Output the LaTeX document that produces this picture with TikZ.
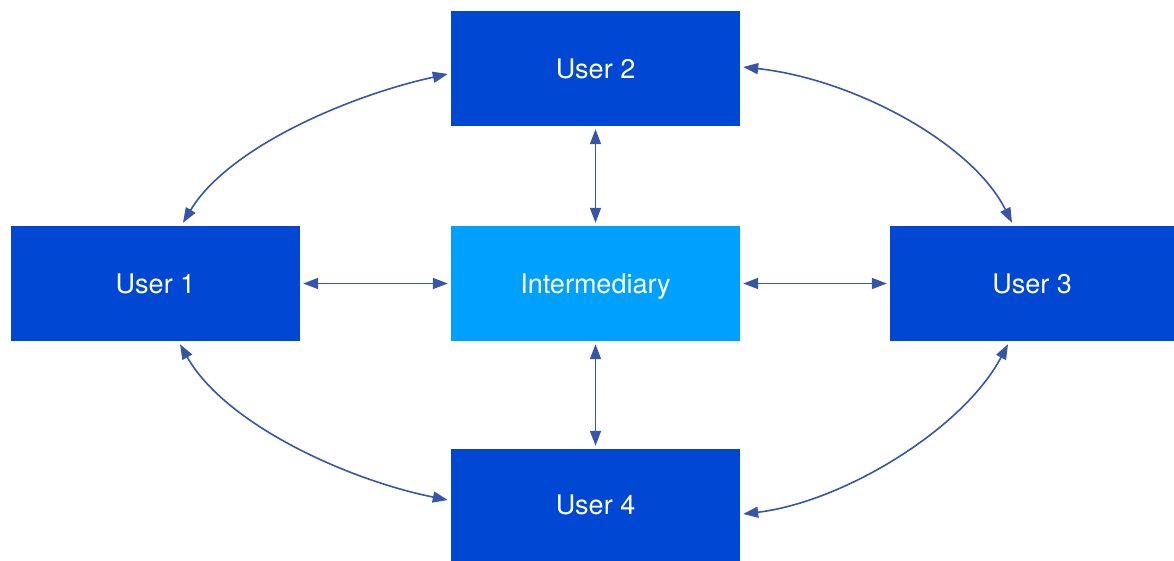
\documentclass[tikz,border=0pt]{standalone}
\usepackage{fontspec}
\setmainfont{TeX Gyre Heros}
\usetikzlibrary{arrows.meta}
\definecolor{userblue}{HTML}{0047D3}
\definecolor{midblue}{HTML}{00A0FF}
\definecolor{linkblue}{HTML}{3657A8}
\tikzset{
  box/.style={rectangle, fill=userblue, text=white, minimum width=289pt,
    minimum height=115pt, inner sep=0pt, text height=19.4pt, text depth=0pt,
    font=\fontsize{27}{32}\selectfont},
  hub/.style={box, fill=midblue},
  link/.style={draw=linkblue, line width=1.6pt,
    {Triangle[length=15pt,width=11pt]}-{Triangle[length=15pt,width=11pt]}},
  gap/.style={shorten <=3pt, shorten >=3pt}
}
\begin{document}
\begin{tikzpicture}[x=1pt,y=-1pt]
  \useasboundingbox[fill=white] (0,0) rectangle (1174,561);
  % boxes
  \node[box] (u2) at (595.5,68.5) {User 2};
  \node[box] (u1) at (155.5,283.5) {User 1};
  \node[hub] (im) at (595.5,283.5) {Intermediary};
  \node[box, minimum width=284pt] (u3) at (1032,283.5) {User 3};
  \node[box, minimum height=112pt] (u4) at (595.5,505) {User 4};
  % straight links through the intermediary
  \draw[link,gap] (u1.east) -- (im.west);
  \draw[link,gap] (im.east) -- (u3.west);
  \draw[link,gap] (u2.south) -- (im.north);
  \draw[link,gap] (im.south) -- (u4.north);
  % curved links between neighbouring users
  \draw[link] ([xshift=27.5pt,yshift=3pt]u1.north)
    .. controls +(45,-75) and +(-100,22) .. ([xshift=-3pt,yshift=-5.5pt]u2.west);
  \draw[link] ([xshift=3pt,yshift=1.5pt]u2.east)
    .. controls +(110,12) and +(-40,-80) .. ([xshift=-20pt,yshift=3pt]u3.north);
  \draw[link] ([xshift=24.5pt,yshift=-3pt]u1.south)
    .. controls +(45,80) and +(-100,-20) .. ([xshift=-3pt,yshift=5pt]u4.west);
  \draw[link] ([xshift=-24pt,yshift=-3pt]u3.south)
    .. controls +(-45,85) and +(100,-12) .. ([xshift=3pt,yshift=-9pt]u4.east);
\end{tikzpicture}
\end{document}
